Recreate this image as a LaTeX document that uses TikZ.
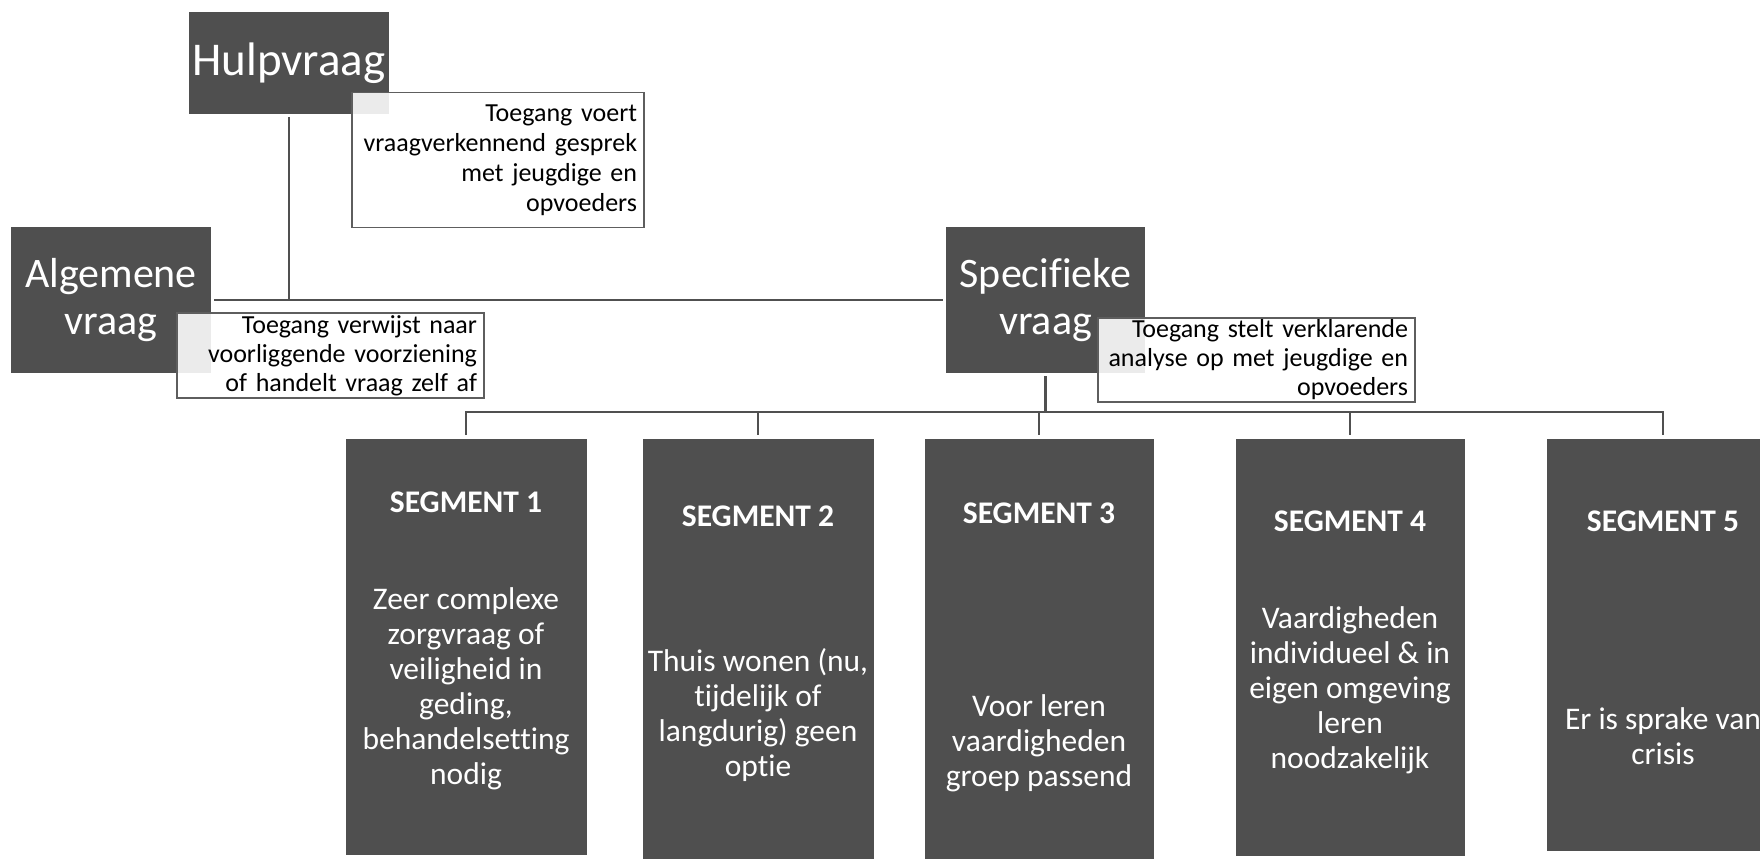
\documentclass[tikz,border=0pt]{standalone}
\usepackage{fontspec}
\setmainfont[Ligatures={NoCommon}]{Carlito}
\usepackage{xcolor}
\usepackage{tikz}
\usetikzlibrary{calc,shapes,backgrounds,positioning}
\definecolor{boxgray}{HTML}{4F4F4F}
\definecolor{linegray}{HTML}{505050}
\definecolor{framegray}{HTML}{5E5E5E}

\begin{document}
\begin{tikzpicture}[x=1pt,y=-1pt]
      \tikzstyle{every node}=[inner sep=0pt,outer sep=0pt]
      \tikzstyle{vraag}=[draw=none,fill=boxgray,text=white,align=center,font=\fontsize{42}{47}\selectfont]
      \tikzstyle{uitleg}=[draw=framegray,line width=1.8pt,fill=white,fill opacity=.89,text opacity=1,text=black,align=right,inner xsep=7pt,inner ysep=2pt,font=\fontsize{26}{29}\selectfont]
      \tikzstyle{segment}=[draw=none,fill=boxgray,anchor=north]
      \tikzstyle{segkop}=[text=white,font=\bfseries\fontsize{31.5}{35}\selectfont]
      \tikzstyle{segtekst}=[text=white,align=center,font=\fontsize{31.5}{35}\selectfont]
      \tikzstyle{lijn}=[draw=linegray,line width=2.3pt]
      \useasboundingbox (0,0) rectangle (1760,860);
      % vragen
      \node[vraag,minimum width=200pt,minimum height=101.7pt,font=\fontsize{47}{50}\selectfont] (hulp) at (289,63) {Hulpvraag};
      \node[uitleg,text width=278pt,minimum height=135pt,font=\fontsize{26}{30}\selectfont] (uitleg1) at (498,160) {Toegang voert\\vraagverkennend gesprek\\met jeugdige en\\opvoeders};
      \node[vraag,minimum width=200pt,minimum height=146pt] (alg) at (111,300) {Algemene\\vraag};
      \node[uitleg,text width=293pt,minimum height=85pt] (uitleg2) at (330.5,355.5) {Toegang verwijst naar\\voorliggende voorziening\\of handelt vraag zelf af};
      \node[vraag,minimum width=199pt,minimum height=146pt] (spec) at (1045.5,300) {Specifieke\\vraag};
      \node[uitleg,text width=303pt,minimum height=82.5pt] (uitleg3) at (1256.5,360) {Toegang stelt verklarende\\analyse op met jeugdige en\\opvoeders};
      \coordinate (tak) at (1045.5,412);
      % segmenten
      \node[segment,minimum width=241pt,minimum height=416pt] (s1) at (466,439) {};
      \node[segment,minimum width=231pt,minimum height=420pt] (s2) at (758,439) {};
      \node[segment,minimum width=229pt,minimum height=420pt] (s3) at (1039,439) {};
      \node[segment,minimum width=229pt,minimum height=417pt] (s4) at (1350,439) {};
      \node[segment,minimum width=232pt,minimum height=412pt] (s5) at (1663,439) {};
      \node[segkop] (s1kop) at (466,502) {SEGMENT 1};
      \node[segkop] (s2kop) at (758,516.7) {SEGMENT 2};
      \node[segkop] (s3kop) at (1039,513) {SEGMENT 3};
      \node[segkop] (s4kop) at (1350,521.7) {SEGMENT 4};
      \node[segkop] (s5kop) at (1663,521.7) {SEGMENT 5};
      \node[segtekst] (s1tekst) at (466,689) {Zeer complexe\\zorgvraag of\\veiligheid in\\geding,\\behandelsetting\\nodig};
      \node[segtekst] (s2tekst) at (758,715) {Thuis wonen (nu,\\tijdelijk of\\langdurig) geen\\optie};
      \node[segtekst] (s3tekst) at (1039,743) {Voor leren\\vaardigheden\\groep passend};
      \node[segtekst] (s4tekst) at (1350,690) {Vaardigheden\\individueel \& in\\eigen omgeving\\leren\\noodzakelijk};
      \node[segtekst] (s5tekst) at (1663,736) {Er is sprake van\\crisis};
      % lijnen
      \draw[lijn,shorten <=3pt] (hulp.south) -- (hulp.south |- alg.east);
      \draw[lijn,shorten <=3pt,shorten >=3pt] (alg.east) -- (spec.west);
      \draw[lijn,shorten <=3pt] (spec.south) -- (tak);
      \draw[lijn,shorten <=4pt,shorten >=4pt] (s1.north) -- (s1.north |- tak) -- (s5.north |- tak) -- (s5.north);
      \draw[lijn,shorten >=4pt] (s2.north |- tak) -- (s2.north);
      \draw[lijn,shorten >=4pt] (s3.north |- tak) -- (s3.north);
      \draw[lijn,shorten >=4pt] (s4.north |- tak) -- (s4.north);
\end{tikzpicture}
\end{document}
